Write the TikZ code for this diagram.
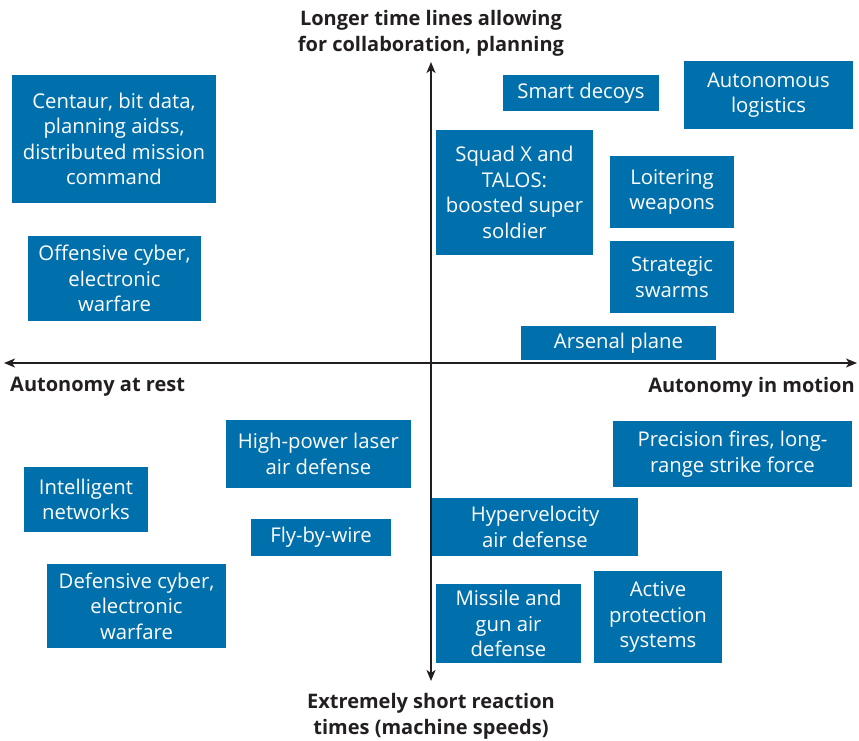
\documentclass[tikz,border=0pt]{standalone}
\usepackage{fontspec}
\setmainfont{Open Sans}
\usetikzlibrary{arrows.meta}
\definecolor{boxblue}{HTML}{0070AD}
\definecolor{ink}{HTML}{231F20}
\begin{document}
\begin{tikzpicture}[x=1pt,y=-1pt,
  bx/.style={fill=boxblue,text=white,align=center,inner sep=0pt,font=\fontsize{20.3}{25.5}\selectfont},
  lab/.style={text=ink,align=center,inner sep=0pt,font=\fontsize{20}{26}\selectfont\bfseries},
  ax/.style={ink,line width=1.8pt,-{Stealth[length=11pt,width=9pt,inset=3pt]}}]
\useasboundingbox (0,0) rectangle (859,740);
\newcommand\bxat[6]{\node[bx,minimum width=#4-#2,minimum height=#5-#3] (#1) at ({(#2+#4)/2},{(#3+#5)/2}) {#6};}
\coordinate (ctr) at (431,363);
\coordinate (top) at (431,62);
\coordinate (bot) at (431,681);
\coordinate (lft) at (4,363);
\coordinate (rgt) at (857,363);
\draw[ax] (ctr) -- (top);
\draw[ax] (ctr) -- (bot);
\draw[ax] (ctr) -- (lft);
\draw[ax] (ctr) -- (rgt);
\bxat{centaur}{12}{75}{216}{203}{Centaur, bit data,\\planning aidss,\\distributed mission\\command}
\bxat{offcyber}{28}{236}{201}{321}{Offensive cyber,\\electronic\\warfare}
\bxat{decoys}{503}{75}{659}{111}{Smart decoys}
\bxat{logistics}{684}{61}{853}{129}{Autonomous\\logistics}
\bxat{squad}{436}{130}{593}{255}{Squad X and\\TALOS:\\boosted super\\soldier}
\bxat{loiter}{610}{156}{734}{228}{Loitering\\weapons}
\bxat{swarms}{610}{241}{734}{313}{Strategic\\swarms}
\bxat{arsenal}{521}{326}{716}{360}{Arsenal plane}
\bxat{laser}{226}{420}{411}{488}{High-power laser\\air defense}
\bxat{intnet}{24}{467}{148}{532}{Intelligent\\networks}
\bxat{fbw}{251}{519}{391}{556}{Fly-by-wire}
\bxat{defcyber}{47}{564}{226}{648}{Defensive cyber,\\electronic\\warfare}
\bxat{fires}{613}{421}{852}{487}{Precision fires, long-\\range strike force}
\bxat{hyper}{432}{498}{638}{556}{Hypervelocity\\air defense}
\bxat{missile}{436}{584}{581}{663}{Missile and\\gun air\\defense}
\bxat{active}{594}{571}{722}{663}{Active\\protection\\systems}
\node[lab] (toplab) at (431,33.5) {Longer time lines allowing\\for collaboration, planning};
\node[lab,anchor=west] (leftlab) at (10,387) {Autonomy at rest};
\node[lab,anchor=east] (rightlab) at (855,387) {Autonomy in motion};
\node[lab] (botlab) at (431,716.5) {Extremely short reaction\\times (machine speeds)};
\end{tikzpicture}
\end{document}
